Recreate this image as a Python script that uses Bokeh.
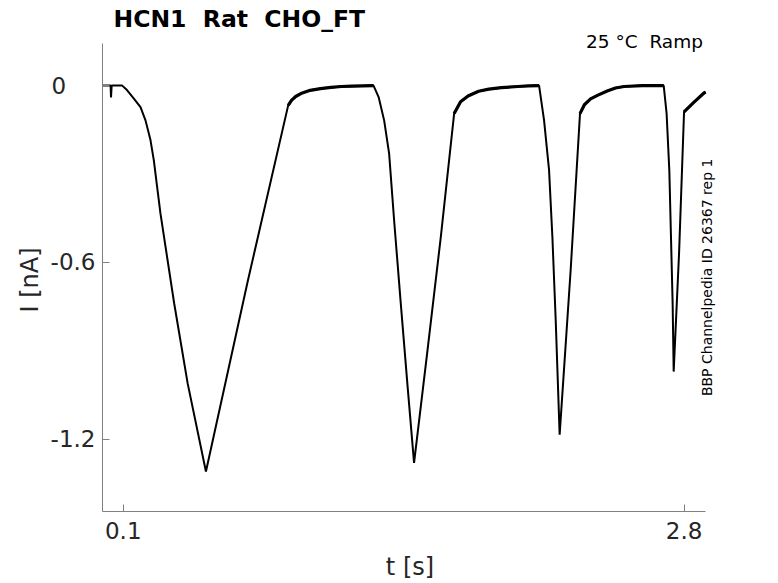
import math
from bokeh.plotting import figure
from bokeh.models import Range1d, FixedTicker, Label, Title
from bokeh.embed import file_html
from bokeh.resources import INLINE

# ---- data ----
t_s = [0.000, 0.020, 0.039, 0.041, 0.044, 0.070, 0.095,
       0.119, 0.151, 0.183, 0.207, 0.231, 0.247, 0.263, 0.279, 0.345, 0.410, 0.498,
       0.699, 0.894,
       0.910, 0.930, 0.955, 1.000, 1.050, 1.100, 1.150, 1.200, 1.250, 1.305,
       1.330, 1.356, 1.380, 1.404, 1.436, 1.469, 1.500,
       1.565, 1.629, 1.693,
       1.724, 1.760, 1.811, 1.860, 1.920, 2.000, 2.050, 2.102,
       2.126, 2.150, 2.166, 2.182, 2.201,
       2.254, 2.299,
       2.320, 2.350, 2.383, 2.430, 2.470, 2.511, 2.600, 2.702,
       2.716, 2.729, 2.737, 2.745, 2.750,
       2.776, 2.800,
       2.848, 2.896, 2.904]
i_na = [0.000, 0.000, 0.000, -0.040, 0.000, 0.000, 0.000,
        -0.016, -0.044, -0.073, -0.118, -0.185, -0.253, -0.344, -0.434, -0.739, -1.011, -1.310,
        -0.665, -0.067,
        -0.050, -0.037, -0.027, -0.016, -0.010, -0.006, -0.003, -0.002, -0.001, 0.000,
        -0.040, -0.118, -0.231, -0.457, -0.739, -1.022, -1.281,
        -0.897, -0.513, -0.095,
        -0.055, -0.035, -0.019, -0.012, -0.007, -0.003, -0.001, 0.000,
        -0.118, -0.287, -0.513, -0.796, -1.185,
        -0.626, -0.095,
        -0.065, -0.045, -0.033, -0.018, -0.008, -0.003, 0.000, 0.000,
        -0.095, -0.287, -0.513, -0.739, -0.971,
        -0.568, -0.089,
        -0.056, -0.025, -0.022]

# holding periods, where the recorded trace is visibly noisier (thicker)
hold_windows = [(0.894, 1.305), (1.693, 2.102), (2.299, 2.702), (2.800, 2.904)]

x_limits = (0.0, 2.904)
y_limits = (-1.446, 0.143)
x_ticks = [0.1, 2.8]
x_tick_labels = ["0.1", "2.8"]
y_ticks = [-1.2, -0.6, 0.0]
y_tick_labels = ["-1.2", "-0.6", "0\u2007\u2007"]

title_text = "HCN1\u00a0\u00a0Rat\u00a0\u00a0CHO_FT"
cond_text = "25 \u00b0C\u00a0\u00a0Ramp"
side_text = "BBP Channelpedia ID 26367 rep 1"
x_label = "t [s]"
y_label = "I [nA]"

FONT = "DejaVu Sans"
AX = "#808080"
TXT = "#262626"

# the frame is extended upward (and slightly right) so the annotations fit
# inside it; the axes themselves are bounded to the data limits
p = figure(width=778, height=583, output_backend="svg", toolbar_location=None,
           x_range=Range1d(0.0, 2.961), y_range=Range1d(-1.446, 0.289),
           min_border_left=102, min_border_right=61, min_border_top=0,
           min_border_bottom=71)
p.outline_line_color = None
p.grid.visible = False
p.background_fill_color = "white"
p.border_fill_color = "white"

p.line(t_s, i_na, line_color="black", line_width=2)
for a, b in hold_windows:
    seg = [(t, v) for t, v in zip(t_s, i_na) if a <= t <= b]
    p.line([s[0] for s in seg], [s[1] for s in seg], line_color="black",
           line_width=3.2, line_join="round")

for ax in (p.xaxis[0], p.yaxis[0]):
    ax.axis_line_color = AX
    ax.major_tick_line_color = AX
    ax.major_tick_in = 7
    ax.major_tick_out = 0
    ax.minor_tick_line_color = None
    ax.major_label_text_font = FONT
    ax.major_label_text_font_size = "23px"
    ax.major_label_text_color = TXT

p.xaxis.bounds = x_limits
p.yaxis.bounds = y_limits
p.xaxis.ticker = FixedTicker(ticks=x_ticks)
p.xaxis.major_label_overrides = dict(zip(x_ticks, x_tick_labels))
p.yaxis.ticker = FixedTicker(ticks=y_ticks)
p.yaxis.major_label_overrides = dict(zip(y_ticks, y_tick_labels))
p.xaxis.major_label_standoff = 10
p.yaxis.major_label_standoff = 7

p.xaxis.axis_label = x_label
p.xaxis.axis_label_standoff = 11
p.xaxis.axis_label_text_font = FONT
p.xaxis.axis_label_text_font_size = "24px"
p.xaxis.axis_label_text_font_style = "normal"
p.xaxis.axis_label_text_color = TXT

# y-axis title placed as a side title so it centres on the bounded axis
p.add_layout(Title(text=y_label, align="left", offset=199, standoff=7,
                   text_font=FONT, text_font_size="24px",
                   text_font_style="normal", text_color=TXT), "left")

p.add_layout(Label(x=0.053, y=0.2246, text=title_text, text_font=FONT,
                   text_font_size="23.5px", text_font_style="bold",
                   text_color="black", text_align="left",
                   text_baseline="alphabetic"))
p.add_layout(Label(x=2.891, y=0.149, text=cond_text, text_font=FONT,
                   text_font_size="18.5px", text_color="black",
                   text_align="right", text_baseline="alphabetic"))
p.add_layout(Label(x=2.911, y=-0.651, text=side_text, text_font=FONT,
                   text_font_size="14px", text_color="black",
                   angle=math.pi / 2, text_align="center",
                   text_baseline="alphabetic"))

open("out.html", "w").write(file_html(p, INLINE))
